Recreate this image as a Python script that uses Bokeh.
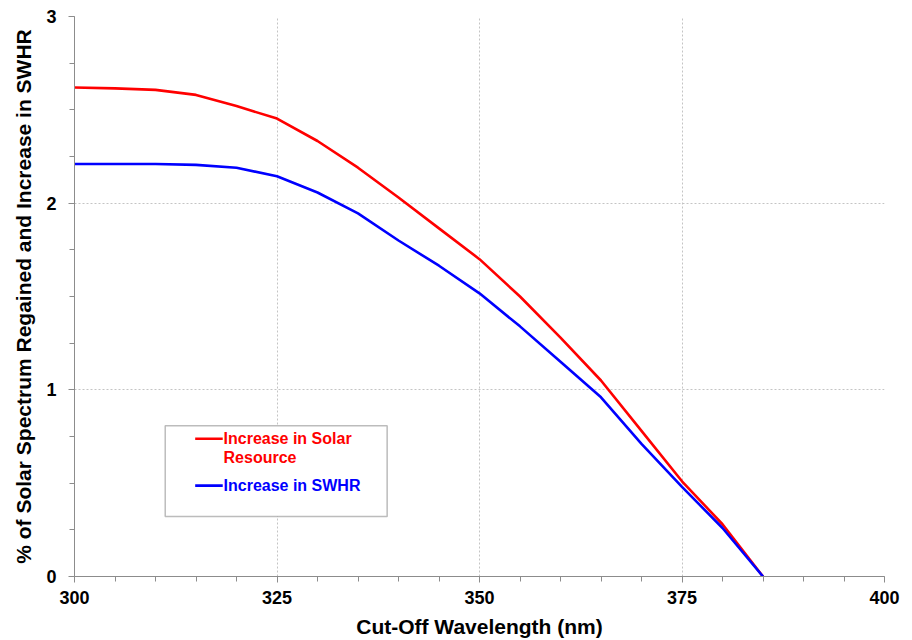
from bokeh.plotting import figure
from bokeh.models import Range1d, SingleIntervalTicker, BoxAnnotation, Label, Arrow
from bokeh.embed import file_html
from bokeh.resources import INLINE

wavelength = [300, 305, 310, 315, 320, 325, 330, 335, 340, 345, 350, 355, 360, 365, 370, 375, 380, 385]
solar_resource = [2.62, 2.615, 2.607, 2.58, 2.52, 2.453, 2.333, 2.19, 2.03, 1.865, 1.70, 1.50, 1.28, 1.05, 0.78, 0.51, 0.28, 0.0]
swhr = [2.21, 2.21, 2.21, 2.205, 2.19, 2.144, 2.057, 1.945, 1.80, 1.665, 1.517, 1.34, 1.15, 0.96, 0.71, 0.48, 0.26, 0.0]

label_solar_1 = "Increase in Solar"
label_solar_2 = "Resource"
label_swhr = "Increase in SWHR"

FONT = "Liberation Sans"

p = figure(width=912, height=640, output_backend="svg", toolbar_location=None,
           x_range=Range1d(300, 400), y_range=Range1d(0, 3),
           min_border_left=74, min_border_right=28, min_border_top=16, min_border_bottom=63)
p.outline_line_color = None
p.background_fill_color = "white"
p.border_fill_color = "white"

p.line(wavelength, solar_resource, line_color="#ff0000", line_width=2.6)
p.line(wavelength, swhr, line_color="#0000ff", line_width=2.6)

p.xaxis.ticker = SingleIntervalTicker(interval=25, num_minor_ticks=5)
p.yaxis.ticker = SingleIntervalTicker(interval=1, num_minor_ticks=4)

for ax in (p.xaxis[0], p.yaxis[0]):
    ax.axis_line_color = "#8c8c8c"
    ax.axis_line_width = 1
    ax.major_tick_line_color = "#8c8c8c"
    ax.minor_tick_line_color = "#8c8c8c"
    ax.major_tick_in = 0
    ax.major_tick_out = 6
    ax.minor_tick_in = 0
    ax.minor_tick_out = 5
    ax.major_label_text_font = FONT
    ax.major_label_text_font_style = "bold"
    ax.major_label_text_font_size = "18px"
    ax.major_label_text_color = "black"
    ax.axis_label_text_font = FONT
    ax.axis_label_text_font_style = "bold"
    ax.axis_label_text_font_size = "21px"
    ax.axis_label_text_color = "black"

p.xaxis.axis_label = "Cut-Off Wavelength (nm)"
p.yaxis.axis_label = "% of Solar Spectrum Regained and Increase in SWHR"
p.xaxis.major_label_standoff = 8
p.xaxis.axis_label_standoff = 8
p.yaxis.major_label_standoff = 12
p.yaxis.axis_label_standoff = 8

for g in (p.xgrid[0], p.ygrid[0]):
    g.grid_line_color = "#c4c4c4"
    g.grid_line_dash = "2 2"
    g.grid_line_width = 1

# legend (manual)
box = BoxAnnotation(left=311.2, right=338.6, top=0.807, bottom=0.321,
                    fill_color="white", fill_alpha=1.0,
                    line_color="#222222", line_width=1.5)
p.add_layout(box)
p.add_layout(Arrow(end=None, x_start=314.9, y_start=0.738, x_end=318.3, y_end=0.738,
                   line_color="#ff0000", line_width=2.6))
p.add_layout(Arrow(end=None, x_start=314.9, y_start=0.487, x_end=318.3, y_end=0.487,
                   line_color="#0000ff", line_width=2.6))
for txt, yv, col in ((label_solar_1, 0.738, "#ff0000"), (label_solar_2, 0.636, "#ff0000"),
                     (label_swhr, 0.487, "#0000ff")):
    p.add_layout(Label(x=318.4, y=yv, text=txt, text_color=col, text_font=FONT,
                       text_font_style="bold", text_font_size="16px",
                       text_baseline="middle", text_align="left"))

open("out.html", "w").write(file_html(p, INLINE))
